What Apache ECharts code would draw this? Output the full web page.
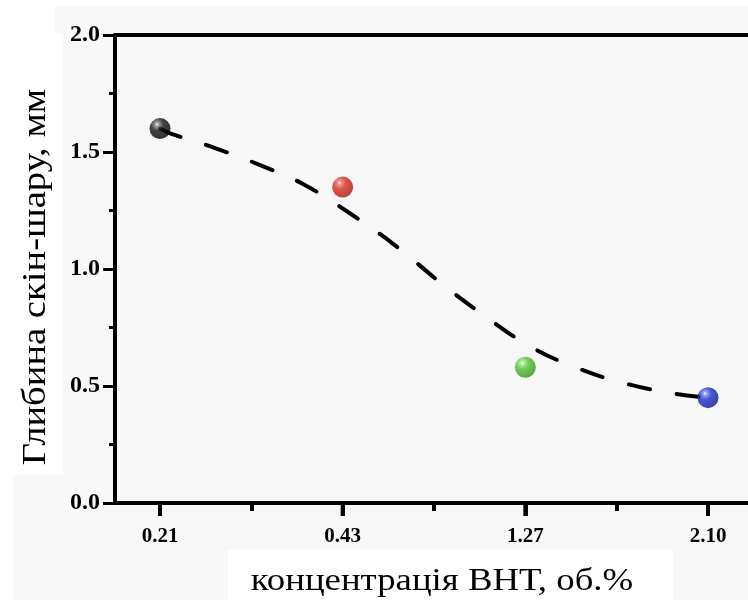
<!DOCTYPE html>
<html>
<head>
<meta charset="utf-8">
<script src="https://cdn.jsdelivr.net/npm/echarts@6/dist/echarts.min.js"></script>
<style>html,body{margin:0;padding:0;background:#fff}#c{width:748px;height:600px}</style>
</head>
<body>
<div id="c"></div>
<script>
// Data
var concLabels = ['0.21', '0.43', '1.27', '2.10'];
var depth = [1.60, 1.35, 0.58, 0.45];
var pointColors = [
  ['#8a8a8a', '#151515', '#000000'],
  ['#f07a70', '#d92a1e', '#a3150d'],
  ['#a8e890', '#4fc030', '#338a1c'],
  ['#7f8cf0', '#1a2ec8', '#0b168a']
];
// fitted dashed curve; x in category units (centre of category i = i + 0.5)
var curveX = [0.5, 0.555, 0.801, 1.048, 1.29, 1.545, 1.792, 2.038, 2.285, 2.531, 2.783, 3.018, 3.264, 3.5];
var curveY = [1.60, 1.58, 1.517, 1.444, 1.36, 1.235, 1.098, 0.94, 0.795, 0.667, 0.577, 0.517, 0.474, 0.449];
var yTicks = { min: 0, max: 2, interval: 0.5 };
// unlabelled slots for the minor x ticks (between the categories)
var tickSlots = ['', ' ', '  ', '   '];

var font = '"Liberation Serif", "Times New Roman", serif';

var scatterData = depth.map(function (v, i) {
  var c = pointColors[i];
  return {
    value: [i, v],
    itemStyle: {
      color: {
        type: 'radial', x: 0.36, y: 0.3, r: 0.75,
        colorStops: [
          { offset: 0, color: '#ffffff' },
          { offset: 0.12, color: c[0] },
          { offset: 0.4, color: c[1] },
          { offset: 1, color: c[2] }
        ]
      }
    }
  };
});
var curveData = curveX.map(function (x, i) { return [x, curveY[i]]; });
// major x tick marks: one per category, at the bottom of the y range
var majorTickData = concLabels.map(function (l, i) { return [i, yTicks.min]; });

var TOP = 35, H = 468, STEP = 182.67, X0 = 160;
function g(left) { return { left: left, top: TOP, width: STEP * 4, height: H, containLabel: false, outerBoundsMode: 'none' }; }
function hiddenY(grid) { return { gridIndex: grid, type: 'value', min: yTicks.min, max: yTicks.max, show: false }; }

var chart = echarts.init(document.getElementById('c'));
chart.setOption({
  backgroundColor: '#f8f8f8',
  animation: false,
  graphic: [
    { type: 'rect', z: -10, shape: { x: 0, y: 0, width: 748, height: 6 }, style: { fill: '#ffffff' } },
    { type: 'rect', z: -10, shape: { x: 0, y: 0, width: 55, height: 34 }, style: { fill: '#ffffff' } },
    { type: 'rect', z: -10, shape: { x: 0, y: 33, width: 63, height: 442 }, style: { fill: '#ffffff' } },
    { type: 'rect', z: -10, shape: { x: 0, y: 475, width: 13, height: 125 }, style: { fill: '#ffffff' } },
    { type: 'rect', z: -10, shape: { x: 228, y: 550, width: 445, height: 50 }, style: { fill: '#ffffff' } },
    { type: 'text', x: 442, y: 582, scaleX: 1.15, style: { text: 'концентрація ВНТ, об.%', font: '32px ' + font, fill: '#000', textAlign: 'center', textVerticalAlign: 'middle' } },
    { type: 'text', x: 36, y: 277, rotation: Math.PI / 2, scaleX: 1.17, style: { text: 'Глибина скін-шару, мм', font: '33px ' + font, fill: '#000', textAlign: 'center', textVerticalAlign: 'middle' } }
  ],
  grid: [
    { left: 115, top: TOP, width: 740, height: H, containLabel: false, outerBoundsMode: 'none' },
    g(X0 - STEP / 2),   // data grid
    g(X0)               // minor ticks
  ],
  xAxis: [
    { gridIndex: 0, type: 'value', min: 0, max: 1, position: 'bottom',
      axisLine: { show: true, lineStyle: { color: '#000', width: 4 } },
      axisTick: { show: false }, axisLabel: { show: false }, splitLine: { show: false } },
    { gridIndex: 0, type: 'value', min: 0, max: 1, position: 'top',
      axisLine: { show: true, lineStyle: { color: '#000', width: 4 } },
      axisTick: { show: false }, axisLabel: { show: false }, splitLine: { show: false } },
    { gridIndex: 1, type: 'category', data: concLabels, boundaryGap: true, position: 'bottom',
      axisLine: { show: false },
      axisTick: { show: true, alignWithLabel: true, interval: 0, length: 13, lineStyle: { color: '#000', width: 4 } },
      axisLabel: { interval: 0, margin: 23, color: '#000', fontFamily: font, fontWeight: 'bold', fontSize: 21 },
      splitLine: { show: false } },
    { gridIndex: 1, type: 'value', min: 0, max: 4, show: false },
    { gridIndex: 2, type: 'category', data: tickSlots, boundaryGap: true, position: 'bottom',
      axisLine: { show: false },
      axisTick: { show: true, alignWithLabel: true, interval: 0, length: 8, lineStyle: { color: '#000', width: 4 } },
      axisLabel: { show: false }, splitLine: { show: false } }
  ],
  yAxis: [
    { gridIndex: 0, type: 'value', min: yTicks.min, max: yTicks.max, interval: yTicks.interval,
      axisLine: { show: true, lineStyle: { color: '#000', width: 4 } },
      axisTick: { show: true, length: 12, lineStyle: { color: '#000', width: 3 } },
      minorTick: { show: true, splitNumber: 2, length: 6, lineStyle: { color: '#000', width: 3 } },
      axisLabel: { margin: 15, color: '#000', fontFamily: font, fontWeight: 'bold', fontSize: 24,
        formatter: function (v) { return v.toFixed(1); } },
      splitLine: { show: false } },
    hiddenY(1), hiddenY(2)
  ],
  series: [
    { type: 'line', xAxisIndex: 3, yAxisIndex: 1, data: curveData, smooth: 0.4, symbol: 'none', z: 2,
      lineStyle: { color: '#000', width: 4, type: [22, 27], cap: 'round' } },
    { type: 'scatter', xAxisIndex: 2, yAxisIndex: 1, data: scatterData, symbolSize: 21, z: 5 },
    { type: 'custom', xAxisIndex: 2, yAxisIndex: 1, data: majorTickData, clip: false, z: 20, silent: true,
      renderItem: function (params, api) {
        var p = api.coord([api.value(0), api.value(1)]);
        return { type: 'line', shape: { x1: p[0], y1: p[1], x2: p[0], y2: p[1] + 13 },
          style: { stroke: '#000', lineWidth: 4 } };
      } }
  ]
});
</script>
</body>
</html>
